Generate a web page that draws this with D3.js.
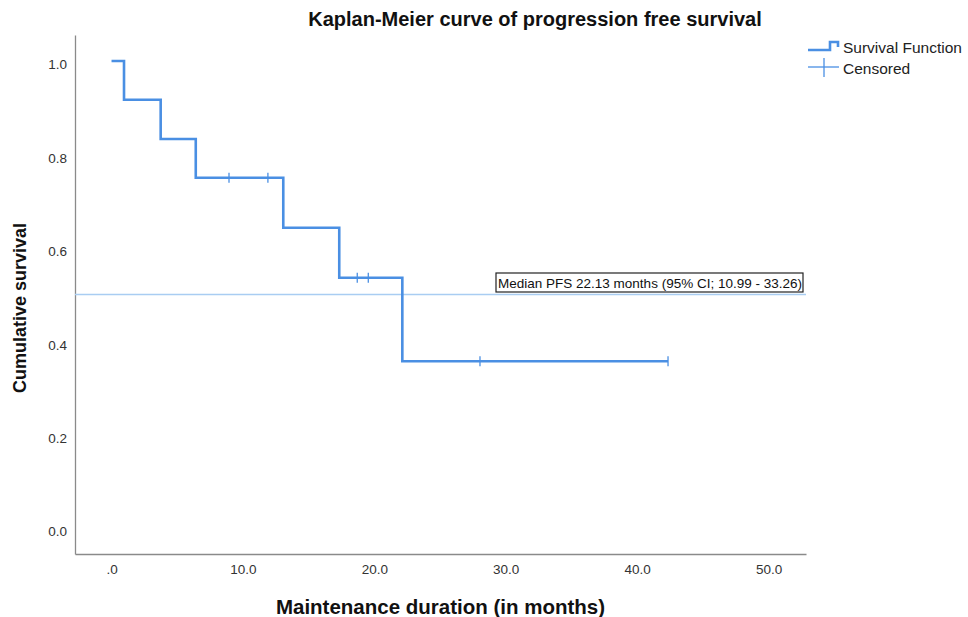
<!DOCTYPE html>
<html>
<head>
<meta charset="utf-8">
<script src="https://cdn.jsdelivr.net/npm/d3@7"></script>
<style>
  body { margin: 0; background: #fff; }
  text { font-family: "Liberation Sans", Arial, sans-serif; }
</style>
</head>
<body>
<script>
// data
var stepTimes = [0, 0.95, 3.74, 6.41, 13.07, 17.33, 22.13];
var survival = [1.0, 0.917, 0.833, 0.75, 0.643, 0.536, 0.357];
var lastTime = 42.35;
var censoredTimes = [8.94, 11.9, 18.7, 19.54, 28.04, 42.35];
var censoredSurv = [0.75, 0.75, 0.536, 0.536, 0.357, 0.357];
var medianLevel = 0.5;
var xTicks = [0, 10, 20, 30, 40, 50];
var yTicks = [0, 0.2, 0.4, 0.6, 0.8, 1.0];
var noteText = "Median PFS 22.13 months (95% CI; 10.99 - 33.26)";

var W = 968, H = 617;
var blue = "#4a8fe3";

var svg = d3.select("body").append("svg").attr("width", W).attr("height", H);

var x = d3.scaleLinear().domain([-2.78, 52.85]).range([75, 806]);
var y = d3.scaleLinear().domain([-0.0557, 1.0557]).range([554, 35]);

// axes
var xAxis = svg.append("g")
  .attr("transform", "translate(0," + y.range()[0] + ")")
  .call(d3.axisBottom(x).tickValues(xTicks).tickSize(0).tickPadding(10)
    .tickFormat(function(d){ return d === 0 ? ".0" : d3.format(".1f")(d); }));
var yAxis = svg.append("g")
  .attr("transform", "translate(" + x.range()[0] + ",0)")
  .call(d3.axisLeft(y).tickValues(yTicks).tickSize(0).tickPadding(8).tickFormat(d3.format(".1f")));

[xAxis, yAxis].forEach(function(a){
  a.select(".domain").attr("stroke", "#8a8a8a").attr("stroke-width", 1.3);
  a.selectAll("text").attr("font-size", 13.5).attr("fill", "#333")
    .attr("font-family", "Liberation Sans, Arial, sans-serif");
});
yAxis.selectAll("text").attr("dy", "0.58em");

// median reference line
svg.append("line")
  .attr("x1", x.range()[0]).attr("x2", x.range()[1])
  .attr("y1", y(medianLevel)).attr("y2", y(medianLevel))
  .attr("stroke", "#a9cdf2").attr("stroke-width", 1.5);

// survival step curve
var pts = stepTimes.map(function(t, i){ return [t, survival[i]]; });
pts.push([lastTime, survival[survival.length - 1]]);
var line = d3.line().x(function(d){ return x(d[0]); }).y(function(d){ return y(d[1]); })
  .curve(d3.curveStepAfter);
svg.append("path").datum(pts)
  .attr("d", line).attr("fill", "none").attr("stroke", blue).attr("stroke-width", 2.6);

// censored marks
svg.append("g").selectAll("line")
  .data(censoredTimes)
  .enter().append("line")
  .attr("x1", function(d){ return x(d); }).attr("x2", function(d){ return x(d); })
  .attr("y1", function(d, i){ return y(censoredSurv[i]) - 5; })
  .attr("y2", function(d, i){ return y(censoredSurv[i]) + 5; })
  .attr("stroke", blue).attr("stroke-width", 1.3);

// annotation box
var note = svg.append("g");
var noteT = note.append("text")
  .attr("x", 498).attr("y", 287.5)
  .attr("font-size", 13.6).attr("fill", "#111")
  .attr("textLength", 304).attr("lengthAdjust", "spacingAndGlyphs")
  .text(noteText);
note.insert("rect", "text")
  .attr("x", 496).attr("y", 273)
  .attr("width", 307).attr("height", 19)
  .attr("fill", "#fff").attr("stroke", "#222").attr("stroke-width", 1.2);

// title and axis labels
svg.append("text")
  .attr("x", 535).attr("y", 26).attr("text-anchor", "middle")
  .attr("font-size", 20).attr("font-weight", "bold").attr("fill", "#111")
  .text("Kaplan-Meier curve of progression free survival");
svg.append("text")
  .attr("x", (x.range()[0] + x.range()[1]) / 2).attr("y", 614).attr("text-anchor", "middle")
  .attr("font-size", 20.5).attr("font-weight", "bold").attr("fill", "#111")
  .text("Maintenance duration (in months)");
svg.append("text")
  .attr("transform", "translate(26," + 308 + ") rotate(-90)").attr("text-anchor", "middle")
  .attr("font-size", 18).attr("font-weight", "bold").attr("fill", "#111")
  .text("Cumulative survival");

// legend
var lg = svg.append("g");
lg.append("path")
  .attr("d", "M808,50 H830 V42 H838 V47")
  .attr("fill", "none").attr("stroke", blue).attr("stroke-width", 2.6);
lg.append("line").attr("x1", 808).attr("x2", 839).attr("y1", 67).attr("y2", 67)
  .attr("stroke", blue).attr("stroke-width", 1.3);
lg.append("line").attr("x1", 824).attr("x2", 824).attr("y1", 58).attr("y2", 77)
  .attr("stroke", blue).attr("stroke-width", 1.3);
lg.append("text").attr("x", 843).attr("y", 53).attr("font-size", 15.5).attr("fill", "#222")
  .text("Survival Function");
lg.append("text").attr("x", 843).attr("y", 74).attr("font-size", 15.5).attr("fill", "#222")
  .text("Censored");
</script>
</body>
</html>
